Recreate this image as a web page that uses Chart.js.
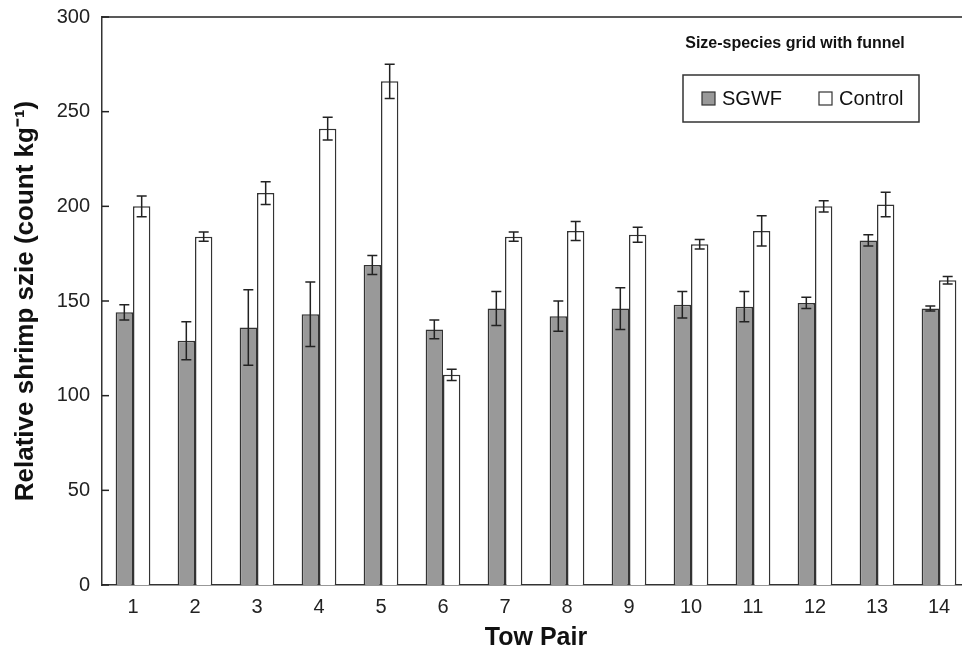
<!DOCTYPE html>
<html>
<head>
<meta charset="utf-8">
<script src="https://cdn.jsdelivr.net/npm/chart.js@4.4.0/dist/chart.umd.min.js"></script>
<style>
  html, body { margin: 0; padding: 0; background: #fff; overflow: hidden; }
  #wrap { width: 970px; height: 659px; }
</style>
</head>
<body>
<div id="wrap"><canvas id="myChart" width="970" height="659"></canvas></div>
<script>
// data
const towPairs = ['1', '2', '3', '4', '5', '6', '7', '8', '9', '10', '11', '12', '13', '14'];
const sgwfValues = [144, 129, 136, 143, 169, 135, 146, 142, 146, 148, 147, 149, 182, 146];
const sgwfErrors = [4, 10, 20, 17, 5, 5, 9, 8, 11, 7, 8, 3, 3, 1.3];
const controlValues = [200, 184, 207, 241, 266, 111, 184, 187, 185, 180, 187, 200, 201, 161];
const controlErrors = [5.5, 2.5, 6, 6, 9, 3, 2.5, 5, 4, 2.5, 8, 3, 6.5, 2];
const yTicks = [0, 50, 100, 150, 200, 250, 300];
const chartTitle = 'Size-species grid with funnel';

const fontFamily = '"Liberation Sans", Arial, sans-serif';
const ink = '#222222';
const grey = '#999999';

// error bars, inward y ticks, top frame line, title and legend box
const decorations = {
    id: 'decorations',
    afterDatasetsDraw(chart) {
        const {ctx, chartArea} = chart;
        const yScale = chart.scales.y;
        ctx.save();
        ctx.strokeStyle = ink;
        ctx.lineWidth = 1.5;

        chart.data.datasets.forEach((ds, i) => {
            const meta = chart.getDatasetMeta(i);
            meta.data.forEach((bar, j) => {
                const v = ds.data[j];
                const e = ds.errors[j];
                const yTop = yScale.getPixelForValue(v + e);
                const yBot = yScale.getPixelForValue(v - e);
                ctx.beginPath();
                ctx.moveTo(bar.x, yTop);
                ctx.lineTo(bar.x, yBot);
                ctx.moveTo(bar.x - 5, yTop);
                ctx.lineTo(bar.x + 5, yTop);
                ctx.moveTo(bar.x - 5, yBot);
                ctx.lineTo(bar.x + 5, yBot);
                ctx.stroke();
            });
        });

        // ticks pointing into the plot
        yTicks.forEach(t => {
            const y = yScale.getPixelForValue(t);
            ctx.beginPath();
            ctx.moveTo(chartArea.left, y);
            ctx.lineTo(chartArea.left + 7, y);
            ctx.stroke();
        });

        // top frame line
        ctx.beginPath();
        ctx.moveTo(chartArea.left, chartArea.top);
        ctx.lineTo(chartArea.right, chartArea.top);
        ctx.stroke();

        // title inside plot
        ctx.fillStyle = '#111111';
        ctx.font = 'bold 16px ' + fontFamily;
        ctx.textAlign = 'center';
        ctx.textBaseline = 'middle';
        ctx.fillText(chartTitle, chartArea.right - 175, chartArea.top + 27);

        // legend box
        const bx = chartArea.right - 287, by = chartArea.top + 58, bw = 236, bh = 47;
        ctx.lineWidth = 1.5;
        ctx.strokeStyle = '#333333';
        ctx.strokeRect(bx, by, bw, bh);
        ctx.font = '20px ' + fontFamily;
        ctx.textAlign = 'left';
        const offsets = [19, 136];
        chart.data.datasets.forEach((ds, i) => {
            const sx = bx + offsets[i];
            const sy = by + bh / 2 - 6.5;
            ctx.fillStyle = ds.backgroundColor;
            ctx.fillRect(sx, sy, 13, 13);
            ctx.lineWidth = 1.2;
            ctx.strokeRect(sx, sy, 13, 13);
            ctx.fillStyle = '#111111';
            ctx.fillText(ds.label, sx + 20, by + bh / 2 + 1);
        });
        ctx.restore();
    }
};

const myChart = new Chart(document.getElementById('myChart').getContext('2d'), {
    type: 'bar',
    data: {
        labels: towPairs,
        datasets: [
            {
                label: 'SGWF',
                data: sgwfValues,
                errors: sgwfErrors,
                backgroundColor: grey,
                borderColor: '#333333',
                borderWidth: 1.5,
                categoryPercentage: 0.56,
                barPercentage: 1
            },
            {
                label: 'Control',
                data: controlValues,
                errors: controlErrors,
                backgroundColor: '#ffffff',
                borderColor: '#333333',
                borderWidth: 1.5,
                categoryPercentage: 0.56,
                barPercentage: 1
            }
        ]
    },
    options: {
        responsive: false,
        animation: false,
        layout: {
            padding: { top: 17, right: 0, bottom: 0, left: 0 }
        },
        plugins: {
            legend: { display: false },
            title: { display: false },
            tooltip: { enabled: false }
        },
        scales: {
            x: {
                grid: { display: false, drawTicks: false },
                border: { display: true, color: '#333333', width: 1.5 },
                ticks: {
                    color: ink,
                    padding: 10,
                    font: { size: 20, family: fontFamily }
                },
                title: {
                    display: true,
                    text: 'Tow Pair',
                    color: '#111111',
                    font: { size: 25, weight: 'bold', family: fontFamily },
                    padding: { top: 0, bottom: 6 }
                },
                afterFit(scale) { scale.height = 74; }
            },
            y: {
                min: 0,
                max: 300,
                afterBuildTicks(scale) { scale.ticks = yTicks.map(v => ({ value: v })); },
                grid: { display: false, drawTicks: false },
                border: { display: true, color: '#333333', width: 1.5 },
                ticks: {
                    color: ink,
                    padding: 12,
                    font: { size: 20, family: fontFamily }
                },
                title: {
                    display: true,
                    text: 'Relative shrimp szie (count kg⁻¹)',
                    color: '#111111',
                    font: { size: 26, weight: 'bold', family: fontFamily },
                    padding: { top: 10, bottom: 0 }
                },
                afterFit(scale) {
                    scale.width = 102;
                    scale.paddingTop = 0;
                    scale.paddingBottom = 0;
                }
            }
        }
    },
    plugins: [decorations]
});
</script>
</body>
</html>
